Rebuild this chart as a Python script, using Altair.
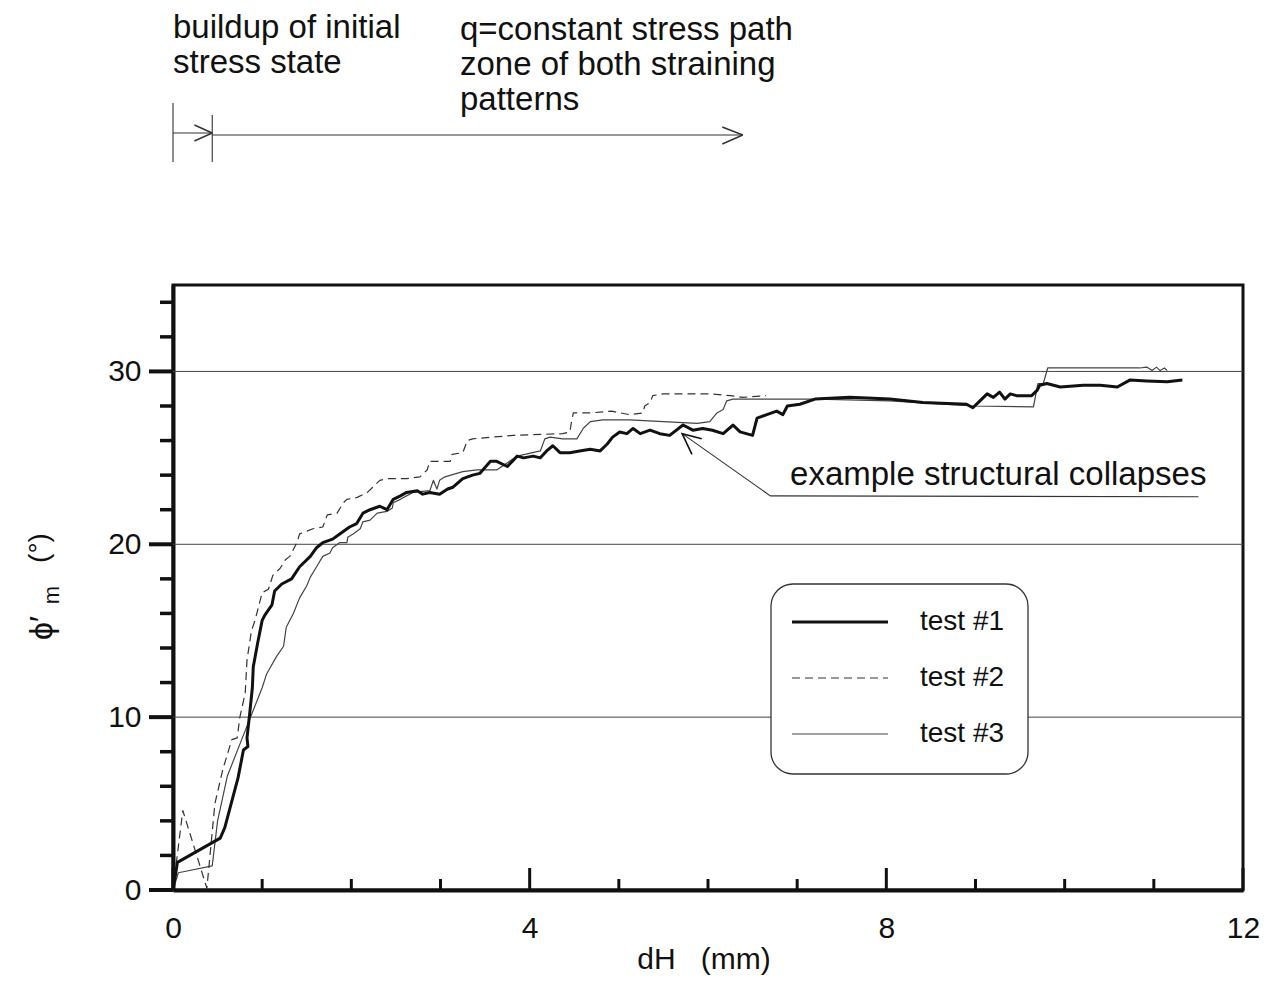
import altair as alt
import pandas as pd

# ---------------- data ----------------
SERIES = ["test #1", "test #2", "test #3"]

T1_X = [0, 0.05, 0.53, 0.58, 0.73, 0.79, 0.84, 0.83, 0.86, 0.89, 0.90, 0.95, 1.00, 1.03, 1.11, 1.14,
        1.22, 1.33, 1.42, 1.54, 1.61, 1.68, 1.79, 1.87, 1.98, 2.06, 2.13, 2.21, 2.32, 2.40, 2.47, 2.55,
        2.62, 2.74, 2.80, 2.88, 2.99, 3.08, 3.14, 3.25, 3.36, 3.44, 3.56, 3.63, 3.75, 3.86, 3.93, 4.04,
        4.12, 4.19, 4.26, 4.34, 4.45, 4.56, 4.68, 4.79, 4.87, 4.93, 5.01, 5.09, 5.16, 5.24, 5.35, 5.46,
        5.57, 5.72, 5.83, 5.94, 6.05, 6.17, 6.28, 6.36, 6.50, 6.55, 6.66, 6.77, 6.84, 6.89, 7.03, 7.20,
        7.59, 8.04, 8.41, 8.90, 8.97, 9.05, 9.13, 9.20, 9.27, 9.33, 9.39, 9.46, 9.63, 9.69, 9.72, 9.80,
        9.95, 10.21, 10.40, 10.59, 10.73, 10.92, 11.15, 11.32]
T1_Y = [0, 1.6, 3.0, 3.6, 6.5, 8.1, 8.3, 8.8, 10.2, 11.7, 12.9, 14.3, 15.6, 15.9, 16.5, 17.3,
        17.7, 18.0, 18.7, 19.3, 19.8, 20.1, 20.3, 20.6, 21.0, 21.2, 21.8, 22.0, 22.2, 22.0, 22.6, 22.8,
        23.0, 23.1, 22.9, 23.0, 22.9, 23.2, 23.3, 23.8, 24.0, 24.1, 24.8, 24.8, 24.5, 25.1, 25.0, 25.1,
        25.0, 25.4, 25.7, 25.3, 25.3, 25.4, 25.5, 25.4, 25.8, 26.2, 26.5, 26.4, 26.7, 26.4, 26.6, 26.4,
        26.3, 26.9, 26.6, 26.7, 26.6, 26.4, 26.9, 26.5, 26.3, 27.3, 27.5, 27.7, 27.5, 28.0, 28.1, 28.4,
        28.5, 28.4, 28.2, 28.1, 27.9, 28.3, 28.7, 28.5, 28.8, 28.4, 28.7, 28.6, 28.6, 28.9, 29.2, 29.3,
        29.1, 29.2, 29.2, 29.1, 29.5, 29.45, 29.4, 29.5]

T2_X = [0, 0.11, 0.38, 0.47, 0.56, 0.66, 0.72, 0.75, 0.81, 0.83, 0.88, 0.92, 1.00, 1.07, 1.12, 1.20,
        1.26, 1.31, 1.39, 1.42, 1.57, 1.68, 1.73, 1.84, 1.91, 1.95, 2.06, 2.18, 2.24, 2.32, 2.40, 2.62,
        2.77, 2.85, 2.88, 3.11, 3.13, 3.25, 3.30, 3.36, 3.81, 4.37, 4.45, 4.47, 4.49, 4.68, 4.92, 5.12,
        5.27, 5.29, 5.35, 5.38, 5.50, 6.02, 6.25, 6.39, 6.65]
T2_Y = [0, 4.6, 0.1, 5.0, 7.0, 8.7, 8.8, 10.0, 11.4, 13.3, 15.0, 15.6, 17.2, 17.4, 18.2, 18.6,
        19.1, 19.3, 20.1, 20.6, 20.9, 21.0, 21.7, 21.8, 22.4, 22.6, 22.7, 23.0, 23.3, 23.7, 23.8, 23.8,
        23.9, 24.3, 24.8, 24.8, 25.2, 25.3, 26.0, 26.1, 26.3, 26.4, 26.5, 27.1, 27.6, 27.6, 27.7, 27.5,
        27.6, 28.0, 28.2, 28.6, 28.7, 28.7, 28.6, 28.5, 28.6]

T3_X = [0, 0.06, 0.44, 0.50, 0.61, 0.77, 0.90, 1.00, 1.05, 1.16, 1.24, 1.27, 1.35, 1.42, 1.50, 1.54,
        1.61, 1.68, 1.76, 1.79, 1.87, 1.95, 1.96, 2.02, 2.10, 2.13, 2.21, 2.29, 2.40, 2.46, 2.47, 2.55,
        2.62, 2.69, 2.88, 2.92, 2.96, 2.99, 3.05, 3.25, 3.41, 3.63, 3.86, 4.12, 4.17, 4.23, 4.37, 4.53,
        4.60, 4.68, 4.82, 5.12, 5.50, 5.88, 6.02, 6.10, 6.17, 6.21, 6.28, 6.58, 7.22, 8.04, 8.97, 9.65,
        9.70, 9.76, 9.81, 10.84, 10.92, 10.98, 11.03, 11.07, 11.12, 11.15]
T3_Y = [0, 1.0, 1.4, 4.0, 6.6, 8.7, 10.4, 11.7, 12.5, 13.5, 14.1, 15.2, 16.0, 16.9, 17.6, 18.1,
        18.7, 19.3, 19.5, 19.8, 20.1, 20.1, 20.4, 20.6, 20.9, 21.3, 21.4, 21.8, 21.9, 22.1, 22.4, 22.6,
        22.8, 23.0, 23.1, 23.7, 23.2, 23.7, 23.9, 24.2, 24.3, 24.3, 25.1, 25.4, 26.1, 26.2, 26.1, 26.1,
        26.7, 27.1, 27.2, 27.2, 27.1, 27.0, 27.1, 27.6, 27.8, 28.3, 28.4, 28.4, 28.4, 28.3, 28.0, 27.95,
        29.3, 29.3, 30.2, 30.2, 30.25, 30.05, 30.25, 30.05, 30.2, 30.05]

X_DOMAIN = [0, 12]
Y_DOMAIN = [0, 35]
X_TICKS_MAJOR = [0, 4, 8, 12]
X_TICKS_MINOR = [1, 2, 3, 5, 6, 7, 9, 10, 11]
Y_TICKS_MAJOR = [0, 10, 20, 30]
Y_TICKS_MINOR = [2, 4, 6, 8, 12, 14, 16, 18, 22, 24, 26, 28, 32, 34]
GRID_Y = [10, 20, 30]

TOP_LEFT_TEXT = ["buildup of initial", "stress state"]
TOP_RIGHT_TEXT = ["q=constant stress path", "zone of both straining", "patterns"]
ANNOT_TEXT = "example structural collapses"
X_TITLE = "dH\u00a0\u00a0\u00a0(mm)"

# ---------------- layout / style ----------------
W, H = 1070, 605
FONT = "Liberation Sans, Arial, Helvetica, sans-serif"
INK = "#111111"

xs = alt.Scale(domain=X_DOMAIN, nice=False, zero=False)
ys = alt.Scale(domain=Y_DOMAIN, nice=False, zero=False)

AX_X = alt.Axis(values=X_TICKS_MAJOR, ticks=False, grid=False, domain=True, domainWidth=4,
                domainColor=INK, labelFontSize=30, labelFont=FONT, labelColor=INK,
                labelPadding=23, title=None, format="d", labelFlush=False, labelOverlap=False)
AX_Y = alt.Axis(values=Y_TICKS_MAJOR, ticks=False, grid=False, domain=True, domainWidth=4,
                domainColor=INK, labelFontSize=30, labelFont=FONT, labelColor=INK,
                labelPadding=32, title=None, format="d", labelFlush=False, labelOverlap=False)

ONE = pd.DataFrame({"a": [0]})


def X(field):
    return alt.X(field, type="quantitative", scale=xs, axis=AX_X)


def Y(field):
    return alt.Y(field, type="quantitative", scale=ys, axis=AX_Y)


layers = []

# horizontal grid lines at 10, 20, 30
grid_df = pd.DataFrame({"v": GRID_Y})
layers.append(alt.Chart(grid_df).mark_rule(color="#444444", strokeWidth=1).encode(
    y=Y("v"), x=alt.value(0), x2=alt.value(W)))

# y ticks (outward) and x ticks (inward)
layers.append(alt.Chart(pd.DataFrame({"v": Y_TICKS_MAJOR})).mark_rule(color=INK, strokeWidth=4).encode(
    y=Y("v"), x=alt.value(-24), x2=alt.value(0)))
layers.append(alt.Chart(pd.DataFrame({"v": Y_TICKS_MINOR})).mark_rule(color=INK, strokeWidth=3.5).encode(
    y=Y("v"), x=alt.value(-13), x2=alt.value(0)))
layers.append(alt.Chart(pd.DataFrame({"v": X_TICKS_MAJOR})).mark_rule(color=INK, strokeWidth=3).encode(
    x=X("v"), y=alt.value(H), y2=alt.value(H - 22)))
layers.append(alt.Chart(pd.DataFrame({"v": X_TICKS_MINOR})).mark_rule(color=INK, strokeWidth=3).encode(
    x=X("v"), y=alt.value(H), y2=alt.value(H - 11)))

# legend box (covers grid line)
LEG_X0, LEG_X1, LEG_Y0, LEG_Y1 = 598, 855, 299, 489
layers.append(alt.Chart(ONE).mark_rect(fill="white", stroke="#333333", strokeWidth=1.3,
                                       cornerRadius=22).encode(
    x=alt.value(LEG_X0), x2=alt.value(LEG_X1), y=alt.value(LEG_Y0), y2=alt.value(LEG_Y1)))

STYLES = {
    "test #1": dict(color="#111111", strokeWidth=3.0),
    "test #2": dict(color="#333333", strokeWidth=1.2, strokeDash=[8, 5]),
    "test #3": dict(color="#444444", strokeWidth=1.2),
}

for name, xv, yv in [("test #3", T3_X, T3_Y), ("test #2", T2_X, T2_Y), ("test #1", T1_X, T1_Y)]:
    df = pd.DataFrame({"x": xv, "y": yv})
    df["i"] = range(len(df))
    layers.append(alt.Chart(df).mark_line(strokeJoin="round", **STYLES[name]).encode(
        x=X("x"), y=Y("y"), order=alt.Order("i:Q")))

# legend entries
for k, name in enumerate(SERIES):
    yy = 337 + 56 * k
    layers.append(alt.Chart(ONE).mark_rule(**STYLES[name]).encode(
        x=alt.value(619), x2=alt.value(715), y=alt.value(yy)))
    layers.append(alt.Chart(pd.DataFrame({"t": [name]})).mark_text(
        align="left", baseline="middle", font=FONT, fontSize=28, color=INK).encode(
        x=alt.value(747), y=alt.value(yy), text="t:N"))

# "example structural collapses" pointer
ptr = pd.DataFrame({"x": [5.71, 6.70, 11.5], "y": [26.4, 22.8, 22.75]})
ptr["i"] = range(len(ptr))
layers.append(alt.Chart(ptr).mark_line(color="#333333", strokeWidth=1.1).encode(
    x=X("x"), y=Y("y"), order=alt.Order("i:Q")))
head = pd.DataFrame({"x": [5.93, 5.71, 5.82], "y": [26.1, 26.4, 25.2]})
head["i"] = range(len(head))
layers.append(alt.Chart(head).mark_line(color="#111111", strokeWidth=1.6).encode(
    x=X("x"), y=Y("y"), order=alt.Order("i:Q")))
layers.append(alt.Chart(pd.DataFrame({"x": [6.92], "y": [24.0], "t": [ANNOT_TEXT]})).mark_text(
    align="left", baseline="middle", font=FONT, fontSize=33, color=INK).encode(
    x=X("x"), y=Y("y"), text="t:N"))


# top annotation: stage arrows in dH units, drawn above the plot
def seg(x1, x2, p1, p2, w=1.1):
    d = pd.DataFrame({"a": [x1], "b": [x2]})
    return alt.Chart(d).mark_rule(color="#333333", strokeWidth=w).encode(
        x=X("a"), x2="b:Q", y=alt.value(p1), y2=alt.value(p2))


layers += [
    seg(0.0, 0.0, -182, -123),
    seg(0.44, 0.44, -170, -123),
    seg(0.0, 0.44, -152, -152),
    seg(0.24, 0.44, -160, -152, 1.4),
    seg(0.24, 0.44, -144, -152, 1.4),
    seg(0.44, 6.39, -150, -150),
    seg(6.16, 6.39, -158, -150, 1.4),
    seg(6.16, 6.39, -141, -150, 1.4),
]

for k, t in enumerate(TOP_LEFT_TEXT):
    layers.append(alt.Chart(pd.DataFrame({"t": [t]})).mark_text(
        align="left", baseline="alphabetic", font=FONT, fontSize=33, color=INK).encode(
        x=alt.value(0), y=alt.value(-247 + 35 * k), text="t:N"))
for k, t in enumerate(TOP_RIGHT_TEXT):
    layers.append(alt.Chart(pd.DataFrame({"t": [t]})).mark_text(
        align="left", baseline="alphabetic", font=FONT, fontSize=33, color=INK).encode(
        x=alt.value(287), y=alt.value(-245 + 35 * k), text="t:N"))

# axis titles
layers.append(alt.Chart(pd.DataFrame({"t": [X_TITLE]})).mark_text(
    align="center", baseline="middle", font=FONT, fontSize=30, color=INK).encode(
    x=alt.value(W / 2 - 4), y=alt.value(H + 70), text="t:N"))
layers.append(alt.Chart(pd.DataFrame({"t": ["ϕ′"]})).mark_text(
    align="center", baseline="middle", font=FONT, fontSize=32, color=INK, angle=270).encode(
    x=alt.value(-131), y=alt.value(343), text="t:N"))
layers.append(alt.Chart(pd.DataFrame({"t": ["m"]})).mark_text(
    align="center", baseline="middle", font=FONT, fontSize=22, color=INK, angle=270).encode(
    x=alt.value(-121), y=alt.value(310), text="t:N"))
layers.append(alt.Chart(pd.DataFrame({"t": ["(°)"]})).mark_text(
    align="center", baseline="middle", font=FONT, fontSize=28, color=INK, angle=270).encode(
    x=alt.value(-133), y=alt.value(263), text="t:N"))

chart = alt.layer(*layers).properties(
    width=W, height=H,
    autosize=alt.AutoSizeParams(type="none"),
    padding={"left": 165, "top": 277, "right": 17, "bottom": 92},
    background="white",
).configure_view(stroke=INK, strokeWidth=3)

chart.save("out.html", embed_options={"renderer": "svg", "actions": False})
